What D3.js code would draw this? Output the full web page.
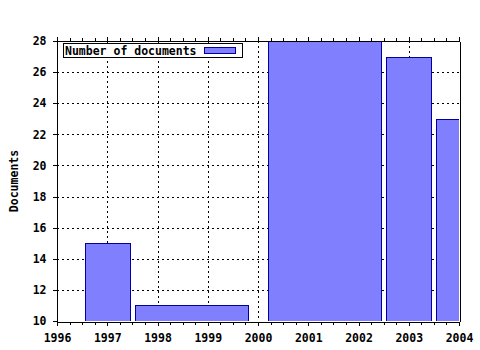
<!DOCTYPE html>
<html>
<head>
<meta charset="utf-8">
<script src="https://cdn.jsdelivr.net/npm/d3@7"></script>
<style>
  html, body { margin: 0; padding: 0; background: #fff; }
  svg { display: block; }
  text { font-family: "DejaVu Sans Mono", monospace; font-weight: bold; font-size: 11.5px; fill: #000; }
</style>
</head>
<body>
<svg id="chart" width="480" height="350"></svg>
<script>
// ---- data ----
const binStart = [1996.55, 1997.55, 2000.2, 2002.55, 2003.55];
const binEnd   = [1997.45, 1999.8, 2002.45, 2003.45, 2004.45];
const documents = [15, 11, 28, 27, 23];
const xTickYears = [1996, 1997, 1998, 1999, 2000, 2001, 2002, 2003, 2004];
const yTickValues = [10, 12, 14, 16, 18, 20, 22, 24, 26, 28];
const seriesName = "Number of documents";
const yTitle = "Documents";

const bars = documents.map((v, i) => ({ x0: binStart[i], x1: binEnd[i], v }));

const svg = d3.select("#chart");
const L = 57, R = 459, T = 41, B = 321;
const x = d3.scaleLinear().domain([1996, 2004]).range([L, R]);
const y = d3.scaleLinear().domain([10, 28]).range([B, T]);

// clip
svg.append("defs").append("clipPath").attr("id", "clip")
  .append("rect").attr("x", L).attr("y", T).attr("width", R - L).attr("height", B - T);

// grid
const grid = svg.append("g").attr("stroke", "#000").attr("stroke-width", 1)
  .attr("stroke-dasharray", "2,3").attr("shape-rendering", "crispEdges");
grid.selectAll("line.gx").data(xTickYears.slice(1, -1)).join("line")
  .attr("x1", d => Math.round(x(d)) + 0.5).attr("x2", d => Math.round(x(d)) + 0.5)
  .attr("y1", T).attr("y2", B);
grid.selectAll("line.gy").data(yTickValues.slice(1, -1)).join("line")
  .attr("x1", L).attr("x2", R)
  .attr("y1", d => Math.round(y(d)) + 0.5).attr("y2", d => Math.round(y(d)) + 0.5);

// bars
svg.append("g").attr("clip-path", "url(#clip)")
  .selectAll("rect").data(bars).join("rect")
  .attr("x", d => Math.round(x(d.x0)) + 0.5)
  .attr("y", d => Math.round(y(d.v)) + 0.5)
  .attr("width", d => Math.round(x(d.x1)) - Math.round(x(d.x0)))
  .attr("height", d => Math.round(y(10)) - Math.round(y(d.v)))
  .attr("fill", "#8080ff").attr("stroke", "#0000a0").attr("stroke-width", 1)
  .attr("shape-rendering", "crispEdges");

// axes
const xBottom = svg.append("g").attr("transform", `translate(0,${B + 0.5})`)
  .call(d3.axisBottom(x).tickValues(xTickYears).tickFormat(d3.format("d")).tickSize(4).tickPadding(8));
const xTop = svg.append("g").attr("transform", `translate(0,${T - 0.5})`)
  .call(d3.axisTop(x).tickValues(xTickYears).tickFormat("").tickSize(4));
const minorYears = d3.range(1996, 2004.001, 0.25).filter(d => Math.abs(d - Math.round(d)) > 0.01);
svg.append("g").attr("transform", `translate(0,${B + 0.5})`)
  .call(d3.axisBottom(x).tickValues(minorYears).tickFormat("").tickSize(3));
svg.append("g").attr("transform", `translate(0,${T - 0.5})`)
  .call(d3.axisTop(x).tickValues(minorYears).tickFormat("").tickSize(3));
const yLeft = svg.append("g").attr("transform", `translate(${L - 0.5},0)`)
  .call(d3.axisLeft(y).tickValues(yTickValues).tickFormat(d3.format("d")).tickSize(4).tickPadding(6));
svg.append("g").attr("transform", `translate(${R + 0.5},0)`)
  .call(d3.axisRight(y).tickValues(yTickValues).tickFormat("").tickSize(0));

svg.selectAll(".domain").attr("stroke", "#000").attr("shape-rendering", "crispEdges");
svg.selectAll(".tick line").attr("stroke", "#000").attr("shape-rendering", "crispEdges");
svg.selectAll(".tick text").attr("font-family", null).attr("font-size", null).attr("fill", "#000");

// y title
svg.append("text").attr("transform", `translate(18,${(T + B) / 2}) rotate(-90)`)
  .attr("text-anchor", "middle").text(yTitle);

// legend
const lg = svg.append("g");
lg.append("rect").attr("x", 63.5).attr("y", 43.5).attr("width", 179).attr("height", 14)
  .attr("fill", "#fff").attr("stroke", "#000").attr("shape-rendering", "crispEdges");
lg.append("text").attr("x", 65).attr("y", 55).text(seriesName);
lg.append("rect").attr("x", 204.5).attr("y", 47.5).attr("width", 31).attr("height", 6)
  .attr("fill", "#8080ff").attr("stroke", "#0000a0").attr("shape-rendering", "crispEdges");
</script>
</body>
</html>
